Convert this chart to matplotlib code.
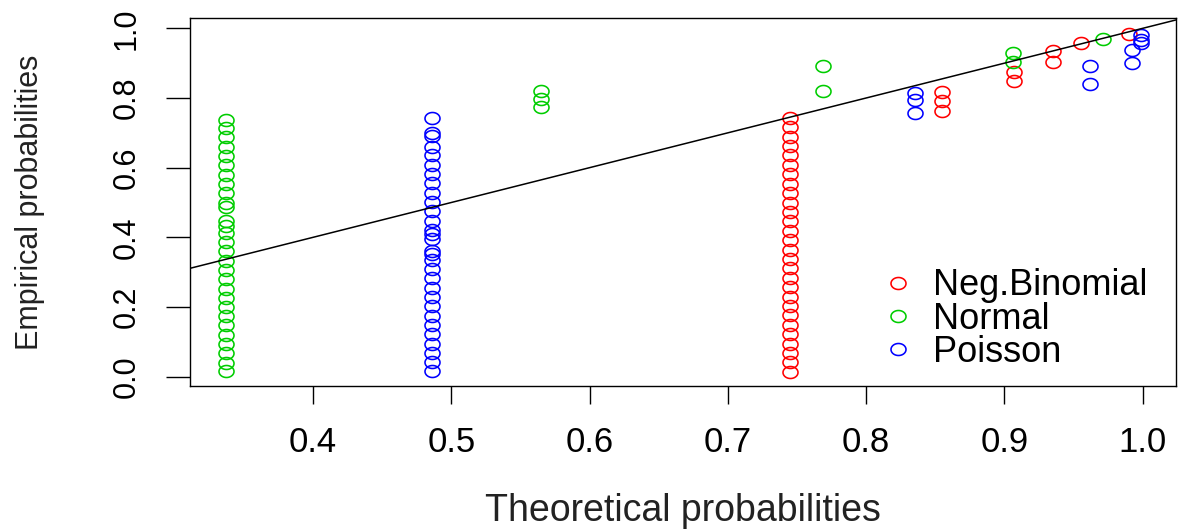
import numpy as np
import matplotlib
matplotlib.use("Agg")
import matplotlib.pyplot as plt
from matplotlib.path import Path

plt.rcParams['font.family'] = ['Liberation Sans', 'DejaVu Sans']

# P-P plot, values
nb_theo = [0.745] * 28 + [0.855] * 3 + [0.907] * 2 + [0.935] * 2 + [0.955, 0.990]
nb_emp = [0.014, 0.041, 0.068, 0.095, 0.122, 0.149, 0.176, 0.203, 0.230, 0.257,
          0.284, 0.311, 0.338, 0.365, 0.392, 0.419, 0.446, 0.473, 0.500, 0.527,
          0.554, 0.581, 0.608, 0.635, 0.662, 0.689, 0.716, 0.743,
          0.763, 0.791, 0.816, 0.848, 0.875, 0.902, 0.934, 0.958, 0.985]

norm_theo = [0.337] * 29 + [0.565] * 3 + [0.769] * 2 + [0.906] * 2 + [0.971]
norm_emp = [0.015, 0.040, 0.067, 0.093, 0.120, 0.147, 0.173, 0.200, 0.227, 0.253,
            0.280, 0.307, 0.333, 0.360, 0.387, 0.413, 0.433, 0.447, 0.487, 0.500,
            0.527, 0.553, 0.580, 0.607, 0.633, 0.660, 0.687, 0.713, 0.737,
            0.775, 0.797, 0.819, 0.821, 0.892, 0.903, 0.930, 0.970]

pois_theo = [0.486] * 30 + [0.835] * 3 + [0.962] * 2 + [0.992] * 2 + [0.999] * 3
pois_emp = [0.015, 0.042, 0.068, 0.095, 0.122, 0.148, 0.175, 0.202, 0.228, 0.255,
            0.282, 0.308, 0.335, 0.352, 0.362, 0.395, 0.410, 0.422, 0.448, 0.475,
            0.502, 0.528, 0.555, 0.582, 0.608, 0.635, 0.660, 0.690, 0.700, 0.742,
            0.758, 0.794, 0.813, 0.841, 0.893, 0.899, 0.939, 0.958, 0.967, 0.980]

labels = ['Neg.Binomial', 'Normal', 'Poisson']
colors = ['#FF0000', '#00CD00', '#0000FF']
xticks = [0.4, 0.5, 0.6, 0.7, 0.8, 0.9, 1.0]
yticks = [0.0, 0.2, 0.4, 0.6, 0.8, 1.0]

# slightly wide open circle, like the stretched R output
t = np.linspace(0, 2 * np.pi, 60)
ring = Path(np.column_stack([np.cos(t), 0.8 * np.sin(t)]), closed=True)

fig = plt.figure(figsize=(11.78, 5.29), dpi=100)
ax = fig.add_axes([0.1613, 0.2703, 0.8370, 0.6957])

for xs, ys, lab, col in zip([nb_theo, norm_theo, pois_theo],
                            [nb_emp, norm_emp, pois_emp], labels, colors):
    ax.plot(xs, ys, linestyle='none', marker=ring, markersize=10.8,
            markerfacecolor='none', markeredgecolor=col, markeredgewidth=1.15,
            label=lab)

ax.axline((0, 0), (1, 1), color='black', lw=1.1)

ax.set_xlim(0.3111, 1.0240)
ax.set_ylim(-0.0267, 1.0296)
ax.set_xticks(xticks)
ax.set_yticks(yticks)
ax.set_xticklabels([f'{v:.1f}' for v in xticks])
ax.set_yticklabels([f'{v:.1f}' for v in yticks])
for s in ax.spines.values():
    s.set_linewidth(1.0)
ax.tick_params(axis='x', length=13, width=1.0, pad=16, labelsize=25)
ax.tick_params(axis='y', length=17, width=1.0, pad=18, labelsize=22,
               labelrotation=90)
plt.setp(ax.get_yticklabels(), va='center')

ax.set_xlabel('Theoretical probabilities', fontsize=27, color='#222222')
ax.xaxis.set_label_coords(0.5, -0.34)
ax.xaxis.label.set_va('center')
ax.set_ylabel('Empirical probabilities', fontsize=22, color='#222222')
ax.yaxis.set_label_coords(-0.1623, 0.5)
ax.yaxis.label.set_va('center')

leg = ax.legend(loc='upper left', bbox_to_anchor=(0.6998, 0.3195),
                frameon=False, fontsize=26, borderpad=0, borderaxespad=0,
                handlelength=1.0, handletextpad=0.47, labelspacing=-0.05,
                markerscale=1.0)

fig.savefig('out.png', dpi=100)
